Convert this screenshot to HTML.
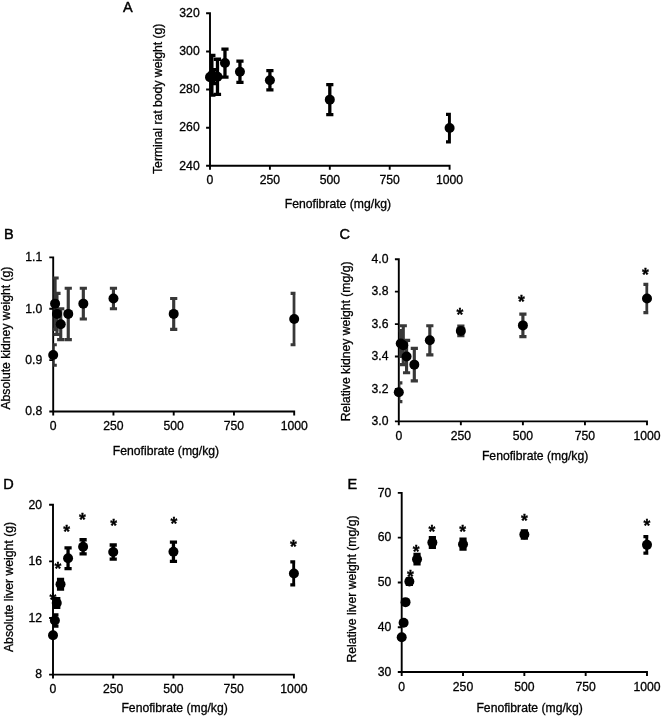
<!DOCTYPE html>
<html lang="en"><head><meta charset="utf-8"><title>Fenofibrate dose response</title>
<style>
html,body{margin:0;padding:0;background:#fff;}
svg{display:block;}
text{font-family:"Liberation Sans", Arial, Helvetica, sans-serif;font-size:12.2px;fill:#000;stroke:#000;stroke-width:0.3px;}
.pl{font-size:14.5px;stroke-width:0.45px;}
.st{font-size:17.5px;font-weight:bold;}
</style></head><body>
<svg width="661" height="717" viewBox="0 0 661 717">
<rect width="661" height="717" fill="#fff"/>
<g class="panel">
<text x="122.9" y="11.8" class="pl">A</text>
<clipPath id="cp0"><rect x="210.0" y="8.3" width="240.90" height="157.50"/></clipPath>
<path d="M210.00 12.35V165.80H450.55M210.00 165.80h-3.9M210.00 127.68h-3.9M210.00 89.55h-3.9M210.00 51.43h-3.9M210.00 13.30h-3.9M210.00 165.80v3.9M269.90 165.80v3.9M329.80 165.80v3.9M389.70 165.80v3.9M449.60 165.80v3.9" fill="none" stroke="#000" stroke-width="1.9"/>
<path clip-path="url(#cp0)" d="M211.87 55.43V95.08M208.27 55.43H215.47M208.27 95.08H215.47M213.74 69.53V83.64M210.14 69.53H217.34M210.14 83.64H217.34M217.49 59.24V94.32M213.89 59.24H221.09M213.89 94.32H221.09M224.97 49.04V77.06M221.38 49.04H228.57M221.38 77.06H228.57M239.95 61.13V82.29M236.35 61.13H243.55M236.35 82.29H243.55M269.90 70.70V89.95M266.30 70.70H273.50M266.30 89.95H273.50M329.80 84.59V114.71M326.20 84.59H333.40M326.20 114.71H333.40M449.60 114.33V141.78M446.00 114.33H453.20M446.00 141.78H453.20" fill="none" stroke="#000" stroke-width="3.3"/>
<circle cx="210.00" cy="77.16" r="5.0"/>
<circle cx="211.87" cy="75.25" r="5.0"/>
<circle cx="213.74" cy="76.59" r="5.0"/>
<circle cx="217.49" cy="76.78" r="5.0"/>
<circle cx="224.97" cy="63.05" r="5.0"/>
<circle cx="239.95" cy="71.71" r="5.0"/>
<circle cx="269.90" cy="80.32" r="5.0"/>
<circle cx="329.80" cy="99.65" r="5.0"/>
<circle cx="449.60" cy="128.06" r="5.0"/>
<text x="199.70" y="169.60" text-anchor="end">240</text>
<text x="199.70" y="131.48" text-anchor="end">260</text>
<text x="199.70" y="93.35" text-anchor="end">280</text>
<text x="199.70" y="55.23" text-anchor="end">300</text>
<text x="199.70" y="17.10" text-anchor="end">320</text>
<text x="210.00" y="184.30" text-anchor="middle">0</text>
<text x="269.90" y="184.30" text-anchor="middle">250</text>
<text x="329.80" y="184.30" text-anchor="middle">500</text>
<text x="389.70" y="184.30" text-anchor="middle">750</text>
<text x="449.60" y="184.30" text-anchor="middle">1000</text>
<text x="337.9" y="208.3" text-anchor="middle">Fenofibrate (mg/kg)</text>
<text transform="translate(162.3 98.8) rotate(-90)" text-anchor="middle">Terminal rat body weight (g)</text>
</g>
<g class="panel">
<text x="4.1" y="238.6" class="pl">B</text>
<clipPath id="cp1"><rect x="53.2" y="252.39999999999998" width="242.30" height="159.10"/></clipPath>
<path d="M53.20 256.45V411.50H295.15M53.20 411.50h-3.9M53.20 360.13h-3.9M53.20 308.77h-3.9M53.20 257.40h-3.9M53.20 411.50v3.9M113.45 411.50v3.9M173.70 411.50v3.9M233.95 411.50v3.9M294.20 411.50v3.9" fill="none" stroke="#000" stroke-width="1.9"/>
<path clip-path="url(#cp1)" d="M53.20 344.72V365.27M49.60 344.72H56.80M49.60 365.27H56.80M55.08 277.95V329.31M51.48 277.95H58.68M51.48 329.31H58.68M56.96 293.36V334.45M53.36 293.36H60.56M53.36 334.45H60.56M60.73 308.77V339.59M57.13 308.77H64.33M57.13 339.59H64.33M68.26 288.22V339.59M64.66 288.22H71.86M64.66 339.59H71.86M83.33 288.22V319.04M79.73 288.22H86.92M79.73 319.04H86.92M113.45 288.22V308.77M109.85 288.22H117.05M109.85 308.77H117.05M173.70 298.49V329.31M170.10 298.49H177.30M170.10 329.31H177.30M294.20 293.36V344.72M290.60 293.36H297.80M290.60 344.72H297.80" fill="none" stroke="#383838" stroke-width="3.15"/>
<circle cx="53.20" cy="355.00" r="5.0"/>
<circle cx="55.08" cy="303.63" r="5.0"/>
<circle cx="56.96" cy="313.90" r="5.0"/>
<circle cx="60.73" cy="324.18" r="5.0"/>
<circle cx="68.26" cy="313.90" r="5.0"/>
<circle cx="83.33" cy="303.63" r="5.0"/>
<circle cx="113.45" cy="298.49" r="5.0"/>
<circle cx="173.70" cy="313.90" r="5.0"/>
<circle cx="294.20" cy="319.04" r="5.0"/>
<text x="42.20" y="415.30" text-anchor="end">0.8</text>
<text x="42.20" y="363.93" text-anchor="end">0.9</text>
<text x="42.20" y="312.57" text-anchor="end">1.0</text>
<text x="42.20" y="261.20" text-anchor="end">1.1</text>
<text x="53.20" y="430.00" text-anchor="middle">0</text>
<text x="113.45" y="430.00" text-anchor="middle">250</text>
<text x="173.70" y="430.00" text-anchor="middle">500</text>
<text x="233.95" y="430.00" text-anchor="middle">750</text>
<text x="294.20" y="430.00" text-anchor="middle">1000</text>
<text x="166" y="454.7" text-anchor="middle">Fenofibrate (mg/kg)</text>
<text transform="translate(9.5 338.1) rotate(-90)" text-anchor="middle">Absolute kidney weight (g)</text>
</g>
<g class="panel">
<text x="339.5" y="239.0" class="pl">C</text>
<clipPath id="cp2"><rect x="398.8" y="254.2" width="249.50" height="167.20"/></clipPath>
<path d="M398.80 258.25V421.40H647.95M398.80 421.40h-3.9M398.80 388.96h-3.9M398.80 356.52h-3.9M398.80 324.08h-3.9M398.80 291.64h-3.9M398.80 259.20h-3.9M398.80 421.40v3.9M460.85 421.40v3.9M522.90 421.40v3.9M584.95 421.40v3.9M647.00 421.40v3.9" fill="none" stroke="#000" stroke-width="1.9"/>
<path clip-path="url(#cp2)" d="M398.80 382.80V401.61M395.20 382.80H402.40M395.20 401.61H402.40M400.74 330.57V356.52M397.14 330.57H404.34M397.14 356.52H404.34M403.27 325.70V364.63M399.67 325.70H406.87M399.67 364.63H406.87M406.56 340.30V372.74M402.96 340.30H410.16M402.96 372.74H410.16M414.31 348.41V380.85M410.71 348.41H417.91M410.71 380.85H417.91M429.82 325.70V354.90M426.22 325.70H433.43M426.22 354.90H433.43M460.85 326.03V335.76M457.25 326.03H464.45M457.25 335.76H464.45M522.90 314.19V336.57M519.30 314.19H526.50M519.30 336.57H526.50M647.00 284.34V312.56M643.40 284.34H650.60M643.40 312.56H650.60" fill="none" stroke="#383838" stroke-width="3.15"/>
<circle cx="398.80" cy="392.20" r="5.0"/>
<circle cx="400.74" cy="343.54" r="5.0"/>
<circle cx="403.27" cy="345.17" r="5.0"/>
<circle cx="406.56" cy="356.52" r="5.0"/>
<circle cx="414.31" cy="364.63" r="5.0"/>
<circle cx="429.82" cy="340.30" r="5.0"/>
<circle cx="460.85" cy="330.89" r="5.0"/>
<circle cx="522.90" cy="325.38" r="5.0"/>
<circle cx="647.00" cy="298.45" r="5.0"/>
<text x="388.50" y="425.20" text-anchor="end">3.0</text>
<text x="388.50" y="392.76" text-anchor="end">3.2</text>
<text x="388.50" y="360.32" text-anchor="end">3.4</text>
<text x="388.50" y="327.88" text-anchor="end">3.6</text>
<text x="388.50" y="295.44" text-anchor="end">3.8</text>
<text x="388.50" y="263.00" text-anchor="end">4.0</text>
<text x="398.80" y="439.90" text-anchor="middle">0</text>
<text x="460.85" y="439.90" text-anchor="middle">250</text>
<text x="522.90" y="439.90" text-anchor="middle">500</text>
<text x="584.95" y="439.90" text-anchor="middle">750</text>
<text x="647.00" y="439.90" text-anchor="middle">1000</text>
<text x="535.1" y="459.7" text-anchor="middle">Fenofibrate (mg/kg)</text>
<text transform="translate(350 341.4) rotate(-90)" text-anchor="middle">Relative kidney weight (mg/g)</text>
<text class="st" x="460" y="320.7" text-anchor="middle">*</text>
<text class="st" x="521.4" y="307.5" text-anchor="middle">*</text>
<text class="st" x="645.4" y="280.5" text-anchor="middle">*</text>
</g>
<g class="panel">
<text x="3.3" y="489.3" class="pl">D</text>
<clipPath id="cp3"><rect x="53.0" y="499.8" width="242.20" height="174.80"/></clipPath>
<path d="M53.00 503.85V674.60H294.85M53.00 674.60h-3.9M53.00 618.00h-3.9M53.00 561.40h-3.9M53.00 504.80h-3.9M53.00 674.60v3.9M113.22 674.60v3.9M173.45 674.60v3.9M233.67 674.60v3.9M293.90 674.60v3.9" fill="none" stroke="#000" stroke-width="1.9"/>
<path clip-path="url(#cp3)" d="M53.00 633.85V636.68M49.40 633.85H56.60M49.40 636.68H56.60M54.88 614.89V626.21M51.28 614.89H58.48M51.28 626.21H58.48M56.76 598.76V607.25M53.16 598.76H60.36M53.16 607.25H60.36M60.53 579.29V589.08M56.93 579.29H64.13M56.93 589.08H64.13M68.06 547.96V568.62M64.46 547.96H71.66M64.46 568.62H71.66M83.11 539.75V553.90M79.51 539.75H86.71M79.51 553.90H86.71M113.22 544.99V559.14M109.62 544.99H116.82M109.62 559.14H116.82M173.45 542.16V561.40M169.85 542.16H177.05M169.85 561.40H177.05M293.90 561.97V584.89M290.30 561.97H297.50M290.30 584.89H297.50" fill="none" stroke="#000" stroke-width="3.3"/>
<circle cx="53.00" cy="635.26" r="5.0"/>
<circle cx="54.88" cy="620.55" r="5.0"/>
<circle cx="56.76" cy="603.00" r="5.0"/>
<circle cx="60.53" cy="584.18" r="5.0"/>
<circle cx="68.06" cy="558.29" r="5.0"/>
<circle cx="83.11" cy="546.83" r="5.0"/>
<circle cx="113.22" cy="552.06" r="5.0"/>
<circle cx="173.45" cy="551.78" r="5.0"/>
<circle cx="293.90" cy="573.43" r="5.0"/>
<text x="42.00" y="678.40" text-anchor="end">8</text>
<text x="42.00" y="621.80" text-anchor="end">12</text>
<text x="42.00" y="565.20" text-anchor="end">16</text>
<text x="42.00" y="508.60" text-anchor="end">20</text>
<text x="53.00" y="693.10" text-anchor="middle">0</text>
<text x="113.22" y="693.10" text-anchor="middle">250</text>
<text x="173.45" y="693.10" text-anchor="middle">500</text>
<text x="233.67" y="693.10" text-anchor="middle">750</text>
<text x="293.90" y="693.10" text-anchor="middle">1000</text>
<text x="174.6" y="712.4" text-anchor="middle">Fenofibrate (mg/kg)</text>
<text transform="translate(13 587) rotate(-90)" text-anchor="middle">Absolute liver weight (g)</text>
<text class="st" x="53" y="605.5999999999999" text-anchor="middle">*</text>
<text class="st" x="57.8" y="575.3" text-anchor="middle">*</text>
<text class="st" x="66.6" y="537.5999999999999" text-anchor="middle">*</text>
<text class="st" x="82.5" y="526.3" text-anchor="middle">*</text>
<text class="st" x="113.7" y="531.5999999999999" text-anchor="middle">*</text>
<text class="st" x="173.9" y="529.6999999999999" text-anchor="middle">*</text>
<text class="st" x="293.4" y="552.6999999999999" text-anchor="middle">*</text>
</g>
<g class="panel">
<text x="347.4" y="489.3" class="pl">E</text>
<clipPath id="cp4"><rect x="401.7" y="487.9" width="246.60" height="184.10"/></clipPath>
<path d="M401.70 491.95V672.00H647.95M401.70 672.00h-3.9M401.70 627.23h-3.9M401.70 582.45h-3.9M401.70 537.67h-3.9M401.70 492.90h-3.9M401.70 672.00v3.9M463.02 672.00v3.9M524.35 672.00v3.9M585.67 672.00v3.9M647.00 672.00v3.9" fill="none" stroke="#000" stroke-width="1.9"/>
<path clip-path="url(#cp4)" d="M401.70 635.96V638.64M398.10 635.96H405.30M398.10 638.64H405.30M403.61 621.40V624.09M400.01 621.40H407.21M400.01 624.09H407.21M405.53 600.36V603.94M401.93 600.36H409.13M401.93 603.94H409.13M409.37 578.87V584.24M405.77 578.87H412.97M405.77 584.24H412.97M417.03 554.47V563.87M413.43 554.47H420.63M413.43 563.87H420.63M432.36 537.76V547.44M428.76 537.76H435.96M428.76 547.44H435.96M463.02 539.24V549.09M459.42 539.24H466.62M459.42 549.09H466.62M524.35 530.96V538.12M520.75 530.96H527.95M520.75 538.12H527.95M647.00 536.65V553.03M643.40 536.65H650.60M643.40 553.03H650.60" fill="none" stroke="#000" stroke-width="3.3"/>
<circle cx="401.70" cy="637.30" r="5.0"/>
<circle cx="403.61" cy="622.75" r="5.0"/>
<circle cx="405.53" cy="602.15" r="5.0"/>
<circle cx="409.37" cy="581.55" r="5.0"/>
<circle cx="417.03" cy="559.17" r="5.0"/>
<circle cx="432.36" cy="542.60" r="5.0"/>
<circle cx="463.02" cy="544.17" r="5.0"/>
<circle cx="524.35" cy="534.54" r="5.0"/>
<circle cx="647.00" cy="544.84" r="5.0"/>
<text x="391.40" y="675.80" text-anchor="end">30</text>
<text x="391.40" y="631.02" text-anchor="end">40</text>
<text x="391.40" y="586.25" text-anchor="end">50</text>
<text x="391.40" y="541.47" text-anchor="end">60</text>
<text x="391.40" y="496.70" text-anchor="end">70</text>
<text x="401.70" y="690.50" text-anchor="middle">0</text>
<text x="463.02" y="690.50" text-anchor="middle">250</text>
<text x="524.35" y="690.50" text-anchor="middle">500</text>
<text x="585.67" y="690.50" text-anchor="middle">750</text>
<text x="647.00" y="690.50" text-anchor="middle">1000</text>
<text x="529.6" y="712.4" text-anchor="middle">Fenofibrate (mg/kg)</text>
<text transform="translate(355.8 589) rotate(-90)" text-anchor="middle">Relative liver weight (mg/g)</text>
<text class="st" x="410.5" y="583.0" text-anchor="middle">*</text>
<text class="st" x="416.1" y="558.0" text-anchor="middle">*</text>
<text class="st" x="432" y="538.0" text-anchor="middle">*</text>
<text class="st" x="462.6" y="538.0" text-anchor="middle">*</text>
<text class="st" x="524.5" y="527.0" text-anchor="middle">*</text>
<text class="st" x="646.8" y="532.0" text-anchor="middle">*</text>
</g>
</svg>
</body></html>
